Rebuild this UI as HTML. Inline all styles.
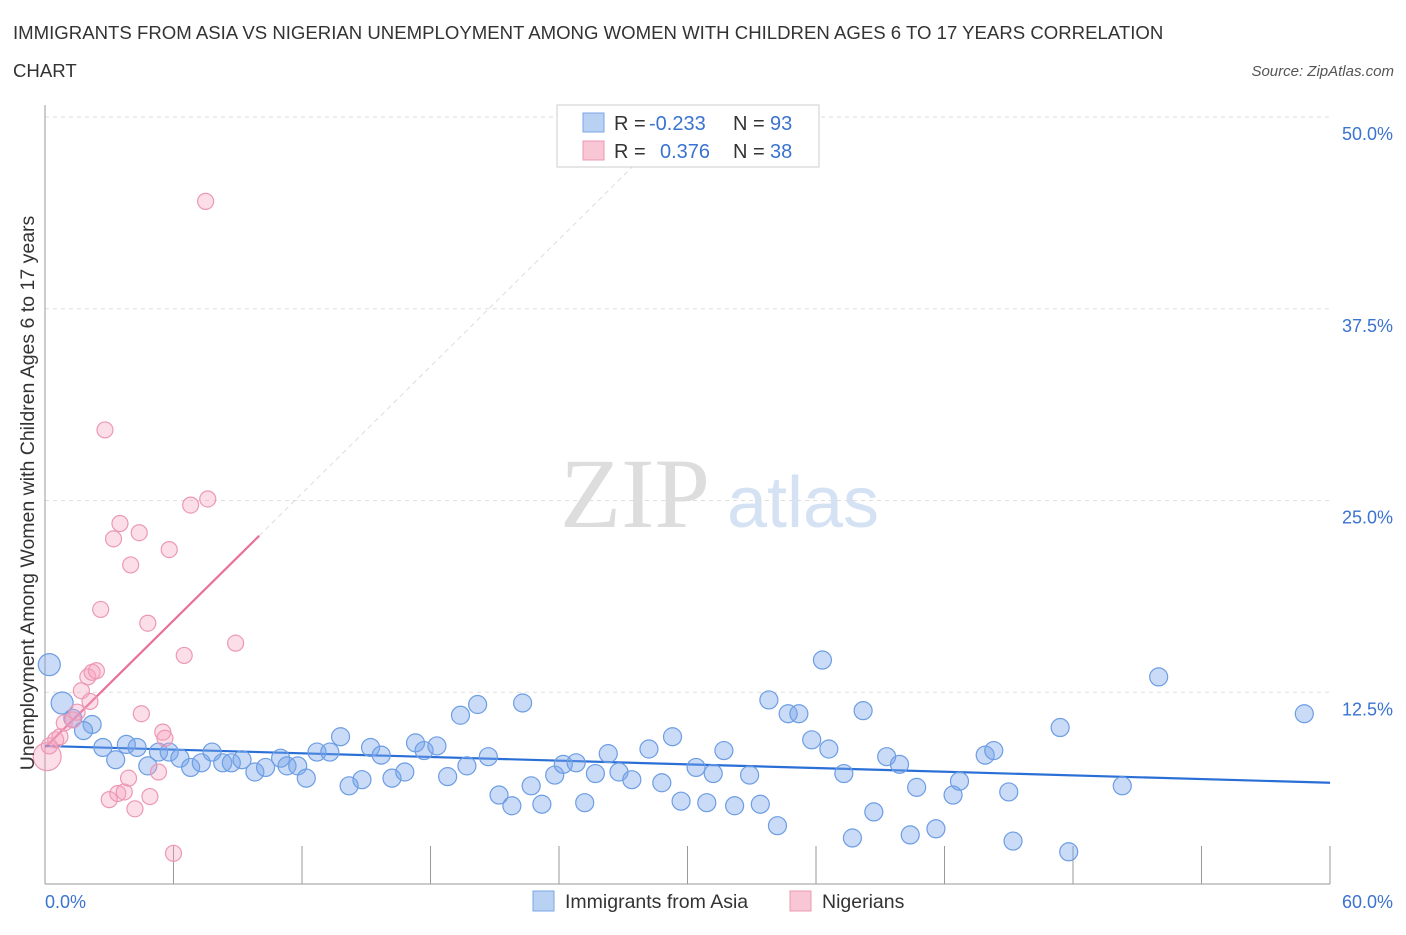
<!DOCTYPE html>
<html><head><meta charset="utf-8">
<style>
body{margin:0;background:#fff;font-family:"Liberation Sans",sans-serif;}
</style></head>
<body>
<svg id="chart" width="1406" height="930" xmlns="http://www.w3.org/2000/svg" font-family="Liberation Sans, sans-serif">
<text x="13" y="39" font-size="18.6" fill="#333">IMMIGRANTS FROM ASIA VS NIGERIAN UNEMPLOYMENT AMONG WOMEN WITH CHILDREN AGES 6 TO 17 YEARS CORRELATION</text>
<text x="13" y="77" font-size="18.6" fill="#333">CHART</text>
<text x="1394" y="76" font-size="15" fill="#555" text-anchor="end" font-style="italic">Source: ZipAtlas.com</text>
<g>
<text x="635" y="527" font-size="100" fill="#ddd" text-anchor="middle" style="font-family:'Liberation Serif',serif">ZIP</text>
<text x="803" y="527" font-size="72" fill="#d4e2f4" text-anchor="middle">atlas</text>
</g>
<g id="grid"></g>
<g id="axes"></g>
<g id="lines"></g>
<g id="points"></g>
<text transform="translate(34,493) rotate(-90)" font-size="19.5" fill="#333" text-anchor="middle">Unemployment Among Women with Children Ages 6 to 17 years</text>
<g>
<rect x="557" y="105" width="262" height="62" fill="#fff" stroke="#ccc"/>
<rect x="583" y="113" width="21" height="19" fill="#b9d1f3" stroke="#7aa6e6"/>
<text x="614" y="130" font-size="20" fill="#333">R = </text><text x="649" y="130" font-size="20" fill="#3a73d0">-0.233</text>
<text x="733" y="130" font-size="20" fill="#333">N = </text><text x="770" y="130" font-size="20" fill="#3a73d0">93</text>
<rect x="583" y="141" width="21" height="19" fill="#f8c6d5" stroke="#eb98b4"/>
<text x="614" y="158" font-size="20" fill="#333">R = </text><text x="660" y="158" font-size="20" fill="#3a73d0">0.376</text>
<text x="733" y="158" font-size="20" fill="#333">N = </text><text x="770" y="158" font-size="20" fill="#3a73d0">38</text>
</g>
<g>
<rect x="533" y="891" width="21" height="20" fill="#b9d1f3" stroke="#7aa6e6"/>
<text x="565" y="908" font-size="19.5" fill="#333">Immigrants from Asia</text>
<rect x="790" y="891" width="21" height="20" fill="#f8c6d5" stroke="#eb98b4"/>
<text x="822" y="908" font-size="19.5" fill="#333">Nigerians</text>
</g>
</svg>
<script>
const yTicks=[12.5,25,37.5,50];
const yTickLabels=["12.5%","25.0%","37.5%","50.0%"];
const xTicks=[0,6,12,18,24,30,36,42,48,54,60];
const asiaX=[0.2,0.8,1.3,2.2,1.8,2.7,3.3,3.8,4.3,4.8,5.3,5.8,6.3,6.8,7.3,7.8,8.3,8.7,9.2,9.8,10.3,11.0,11.3,11.8,12.2,12.7,13.3,13.8,14.2,14.8,15.2,15.7,16.2,16.8,17.3,17.7,18.3,18.8,19.4,19.7,20.2,20.7,21.2,21.8,22.3,22.7,23.2,23.8,24.2,24.8,25.2,25.7,26.3,26.8,27.4,28.2,28.8,29.3,29.7,30.4,30.9,31.2,31.7,32.2,32.9,33.4,33.8,34.2,34.7,35.2,35.8,36.3,36.6,37.3,37.7,38.2,38.7,39.3,39.9,40.4,40.7,41.6,42.4,42.7,43.9,44.3,45.0,45.2,47.4,47.8,50.3,52.0,58.8];
const asiaY=[14.3,11.8,10.8,10.4,10.0,8.9,8.1,9.1,8.9,7.7,8.6,8.6,8.2,7.6,7.9,8.6,7.9,7.9,8.1,7.3,7.6,8.2,7.7,7.7,6.9,8.6,8.6,9.6,6.4,6.8,8.9,8.4,6.9,7.3,9.2,8.7,9.0,7.0,11.0,7.7,11.7,8.3,5.8,5.1,11.8,6.4,5.2,7.1,7.8,7.9,5.3,7.2,8.5,7.3,6.8,8.8,6.6,9.6,5.4,7.6,5.3,7.2,8.7,5.1,7.1,5.2,12.0,3.8,11.1,11.1,9.4,14.6,8.8,7.2,3.0,11.3,4.7,8.3,7.8,3.2,6.3,3.6,5.8,6.7,8.4,8.7,6.0,2.8,10.2,2.1,6.4,13.5,11.1];
const nigX=[0.1,0.2,0.5,0.7,0.9,1.3,1.5,1.7,2.0,2.1,2.2,2.4,2.6,2.8,3.0,3.2,3.4,3.5,3.7,3.9,4.0,4.2,4.4,4.5,4.8,4.9,5.3,5.5,5.6,5.8,6.0,6.5,6.8,7.5,7.6,8.9];
const nigY=[8.3,9.0,9.4,9.6,10.5,10.7,11.2,12.6,13.5,11.9,13.8,13.9,17.9,29.6,5.5,22.5,5.9,23.5,6.0,6.9,20.8,4.9,22.9,11.1,17.0,5.7,7.3,9.9,9.5,21.8,2.0,14.9,24.7,44.5,25.1,15.7];
const asiaTrend=[9.0,6.6];
const nigTrend=[8.9,22.7];
const NS="http://www.w3.org/2000/svg";
const X=v=>45+v*(1285/60);
const Y=v=>884-v*(767/50);
function mk(t,a,p){const e=document.createElementNS(NS,t);for(const k in a)e.setAttribute(k,a[k]);p.appendChild(e);return e;}
const grid=document.getElementById('grid'),axes=document.getElementById('axes'),lines=document.getElementById('lines'),pts=document.getElementById('points');
yTicks.forEach((v,i)=>{
 const g=mk('line',{x1:45,x2:1330,y1:Y(v),y2:Y(v),stroke:'#ddd','stroke-dasharray':'4,4'},grid);
 
 
 const t=mk('text',{x:1393,y:Y(v)+23,'font-size':18,fill:'#3a73d0','text-anchor':'end'},axes);
 t.textContent=yTickLabels[i];
 
 
});
const ax=mk('line',{x1:45,x2:1330,y1:884,y2:884,stroke:'#999'},axes);


const ay=mk('line',{x1:45,x2:45,y1:105,y2:884,stroke:'#999'},axes);


xTicks.forEach(v=>{
 const l=mk('line',{x1:X(v),x2:X(v),y1:846,y2:884,stroke:'#999'},axes);
 
 
});
const xl0=mk('text',{x:45,y:908,'font-size':18,fill:'#3a73d0'},axes);xl0.textContent='0.0%';


const xl1=mk('text',{x:1393,y:908,'font-size':18,fill:'#3a73d0','text-anchor':'end'},axes);xl1.textContent='60.0%';


asiaX.forEach((x,i)=>{
 const c=mk('circle',{cx:X(x),cy:Y(asiaY[i]),r:i<2?11:9,fill:'rgba(120,165,235,0.4)',stroke:'#6d9de3','stroke-width':1.2},pts);
 
 
});
nigX.forEach((x,i)=>{
 const c=mk('circle',{cx:X(x),cy:Y(nigY[i]),r:i==0?14:8,fill:'rgba(245,160,190,0.35)',stroke:'#ec98b5','stroke-width':1.2},pts);
 
 
});
const slope=(nigTrend[1]-nigTrend[0])/10;
const xEnd=(50-nigTrend[0])/slope;
const pd=mk('line',{x1:X(10),y1:Y(nigTrend[1]),x2:X(xEnd),y2:Y(50),stroke:'#ddd','stroke-dasharray':'5,4'},lines);


const pl=mk('line',{x1:X(0),y1:Y(nigTrend[0]),x2:X(10),y2:Y(nigTrend[1]),stroke:'#e8709a','stroke-width':2.2},lines);


const bl=mk('line',{x1:X(0),y1:Y(asiaTrend[0]),x2:X(60),y2:Y(asiaTrend[1]),stroke:'#2a6fd6','stroke-width':2.2},lines);


</script>
</body></html>
